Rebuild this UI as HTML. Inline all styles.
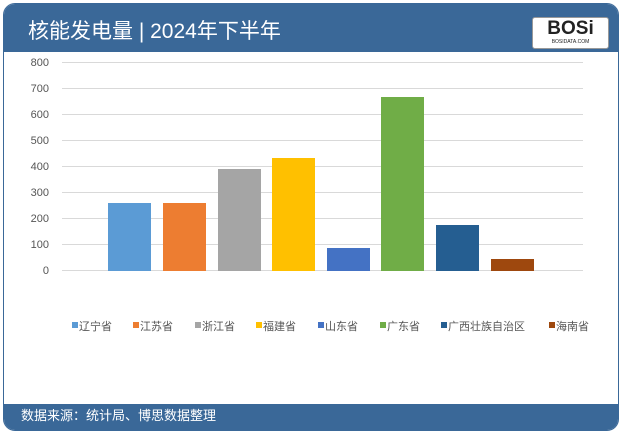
<!DOCTYPE html><html><head><meta charset="utf-8"><style>
body{margin:0;width:622px;height:434px;background:#fff;font-family:"Liberation Sans","Noto Sans CJK SC",sans-serif;overflow:hidden}
.card{position:absolute;left:3px;top:3px;width:616px;height:428px;border-radius:12px;background:#fff;border:1px solid #3a6898;box-sizing:border-box;overflow:hidden}
.hd{position:absolute;left:0;top:0;width:100%;height:48px;background:#3a6898;color:#fff;font-size:21px;line-height:56px;padding-left:24px;box-sizing:border-box}
.ft{position:absolute;left:0;bottom:0;width:100%;height:26px;background:#3a6898;color:#fff;font-size:13px;line-height:24px;padding-left:17px;box-sizing:border-box}
.logo{position:absolute;left:528px;top:13px;width:75px;height:30px;background:#fff;border-radius:3px;border:1px solid #999;font:900 19px "Liberation Sans",sans-serif;color:#222;text-align:center;line-height:22px}
.logo small{display:block;font-size:5px;line-height:4px;font-weight:400}
</style></head><body>
<div class="card"><div class="hd">核能发电量 | 2024年下半年</div>
<div class="logo">BOSi<small>BOSIDATA.COM</small></div>
<div class="ft">数据来源：统计局、博思数据整理</div></div>
<svg width="622" height="434" style="position:absolute;left:0;top:0" font-family="Liberation Sans,Noto Sans CJK SC,sans-serif">
<g stroke="#d9d9d9" stroke-width="1">
<line x1="62" x2="583" y1="62.5" y2="62.5"/><line x1="62" x2="583" y1="88.5" y2="88.5"/><line x1="62" x2="583" y1="114.5" y2="114.5"/><line x1="62" x2="583" y1="140.5" y2="140.5"/><line x1="62" x2="583" y1="166.5" y2="166.5"/><line x1="62" x2="583" y1="192.5" y2="192.5"/><line x1="62" x2="583" y1="218.5" y2="218.5"/><line x1="62" x2="583" y1="244.5" y2="244.5"/><line x1="62" x2="583" y1="270.5" y2="270.5"/></g>
<g font-size="11" fill="#555" text-anchor="end">
<text x="49" y="66">800</text><text x="49" y="92">700</text><text x="49" y="118">600</text><text x="49" y="144">500</text><text x="49" y="170">400</text><text x="49" y="196">300</text><text x="49" y="222">200</text><text x="49" y="248">100</text><text x="49" y="274">0</text></g>
<rect x="108" y="203" width="43" height="68" fill="#5b9bd5"/>
<rect x="163" y="203" width="43" height="68" fill="#ed7d31"/>
<rect x="218" y="169" width="43" height="102" fill="#a5a5a5"/>
<rect x="272" y="158" width="43" height="113" fill="#ffc000"/>
<rect x="327" y="248" width="43" height="23" fill="#4472c4"/>
<rect x="381" y="97" width="43" height="174" fill="#70ad47"/>
<rect x="436" y="225" width="43" height="46" fill="#255e91"/>
<rect x="491" y="259" width="43" height="12" fill="#9e480e"/>
<g font-size="11" fill="#555">
<rect x="72" y="322" width="6" height="6" fill="#5b9bd5"/><text x="79" y="330">辽宁省</text>
<rect x="133" y="322" width="6" height="6" fill="#ed7d31"/><text x="140" y="330">江苏省</text>
<rect x="195" y="322" width="6" height="6" fill="#a5a5a5"/><text x="202" y="330">浙江省</text>
<rect x="256" y="322" width="6" height="6" fill="#ffc000"/><text x="263" y="330">福建省</text>
<rect x="318" y="322" width="6" height="6" fill="#4472c4"/><text x="325" y="330">山东省</text>
<rect x="380" y="322" width="6" height="6" fill="#70ad47"/><text x="387" y="330">广东省</text>
<rect x="441" y="322" width="6" height="6" fill="#255e91"/><text x="448" y="330">广西壮族自治区</text>
<rect x="549" y="322" width="6" height="6" fill="#9e480e"/><text x="556" y="330">海南省</text></g>
</svg></body></html>
